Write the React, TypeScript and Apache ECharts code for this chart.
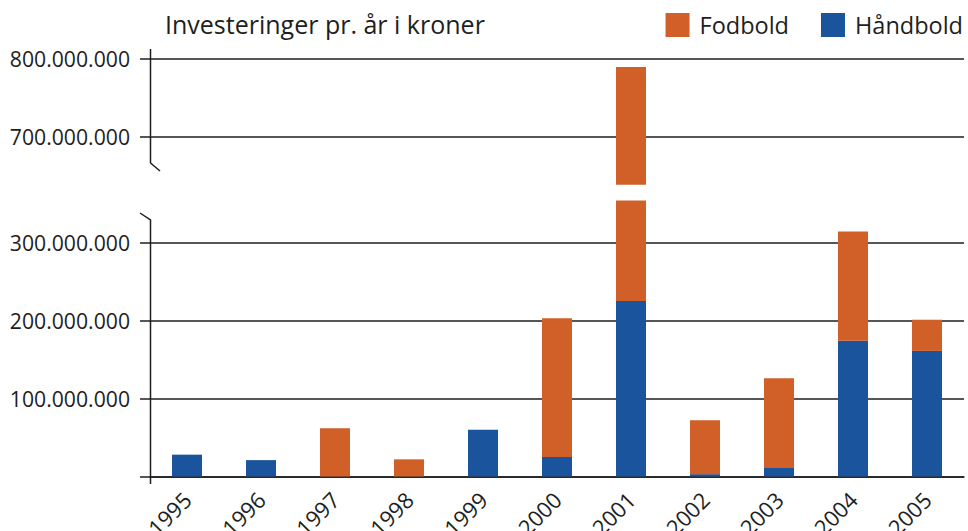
import React, { useEffect, useRef } from 'react';
import * as echarts from 'echarts';

// Values in million kroner
const years = ['1995', '1996', '1997', '1998', '1999', '2000', '2001', '2002', '2003', '2004', '2005'];
const handbold = [28, 21, 0, 0, 60, 25, 225, 3, 11, 174, 161];
const fodbold = [0, 0, 62, 22, 0, 178, 564, 69, 115, 140, 40];
const lowerTicks = [0, 100, 200, 300];
const lowerLabels = [100, 200, 300];
const upperTicks = [700, 800];

const FONT = '"Open Sans", "Noto Sans", sans-serif';
const ORANGE = '#D06028';
const BLUE = '#1A549C';
const INK = '#1e1e1e';

const fmt = (v: number) => String(Math.round(v * 1e6)).replace(/\B(?=(\d{3})+(?!\d))/g, '.');

export default function App() {
  const ref = useRef<HTMLDivElement>(null);
  useEffect(() => {
    if (!ref.current) return;
    const chart = echarts.init(ref.current, null, { renderer: 'svg' });
    const gridLine = { show: true, lineStyle: { color: INK, width: 1.5 } };
    const yLabel = { fontSize: 21.2, color: INK, fontFamily: FONT, margin: 20, formatter: fmt };
    const option: any = {
      animation: false,
      backgroundColor: '#fff',
      title: {
        text: 'Investeringer pr. år i kroner',
        left: 160,
        top: 6,
        textStyle: { fontSize: 25, fontWeight: 'normal', color: INK, fontFamily: FONT },
      },
      legend: {
        right: 0,
        top: 8,
        itemWidth: 24,
        itemHeight: 24,
        itemGap: 32,
        icon: 'rect',
        data: ['Fodbold', 'Håndbold'],
        textStyle: { fontSize: 23.5, color: INK, fontFamily: FONT, padding: [0, 0, 0, 5] },
      },
      grid: [
        { left: 150, width: 814, top: 48.94, height: 135.72, outerBoundsMode: 'none', containLabel: false },
        { left: 150, width: 814, top: 200.4, height: 276.1, outerBoundsMode: 'none', containLabel: false },
      ],
      xAxis: [
        { gridIndex: 0, type: 'category', data: years, show: false },
        {
          gridIndex: 1,
          type: 'category',
          data: years,
          axisLine: { lineStyle: { color: INK, width: 1.5 } },
          axisTick: { show: false },
          axisLabel: { rotate: 45, fontSize: 22, color: INK, fontFamily: FONT, margin: 19 },
        },
      ],
      yAxis: [
        {
          gridIndex: 0,
          type: 'value',
          min: 638,
          max: 812,
          axisLine: { show: false },
          axisTick: { show: true, length: 10, customValues: upperTicks, lineStyle: { color: INK, width: 1.5 } },
          axisLabel: { ...yLabel, customValues: upperTicks },
          splitLine: gridLine,
        },
        {
          gridIndex: 1,
          type: 'value',
          min: 0,
          max: 354,
          axisLine: { show: false },
          axisTick: { show: true, length: 10, customValues: lowerTicks, lineStyle: { color: INK, width: 1.5 } },
          axisLabel: { ...yLabel, customValues: lowerLabels },
          splitLine: gridLine,
        },
      ],
      series: [
        { name: 'Håndbold', type: 'bar', stack: 'up', xAxisIndex: 0, yAxisIndex: 0, data: handbold, barWidth: 30, clip: true, itemStyle: { color: BLUE } },
        { name: 'Fodbold', type: 'bar', stack: 'up', xAxisIndex: 0, yAxisIndex: 0, data: fodbold, barWidth: 30, clip: true, itemStyle: { color: ORANGE } },
        { name: 'Håndbold', type: 'bar', stack: 'low', xAxisIndex: 1, yAxisIndex: 1, data: handbold, barWidth: 30, clip: true, itemStyle: { color: BLUE } },
        { name: 'Fodbold', type: 'bar', stack: 'low', xAxisIndex: 1, yAxisIndex: 1, data: fodbold, barWidth: 30, clip: true, itemStyle: { color: ORANGE } },
      ],
      graphic: [
        { type: 'polyline', shape: { points: [[150.5, 49], [150.5, 163], [160, 171]] }, style: { stroke: INK, lineWidth: 1.5, fill: null }, z: 100 },
        { type: 'polyline', shape: { points: [[140, 213], [150.5, 220], [150.5, 484]] }, style: { stroke: INK, lineWidth: 1.5, fill: null }, z: 100 },
      ],
    };
    chart.setOption(option);
    return () => chart.dispose();
  }, []);
  return <div ref={ref} style={{ position: 'fixed', left: 0, top: 0, width: 968, height: 531, background: '#fff' }} />;
}
